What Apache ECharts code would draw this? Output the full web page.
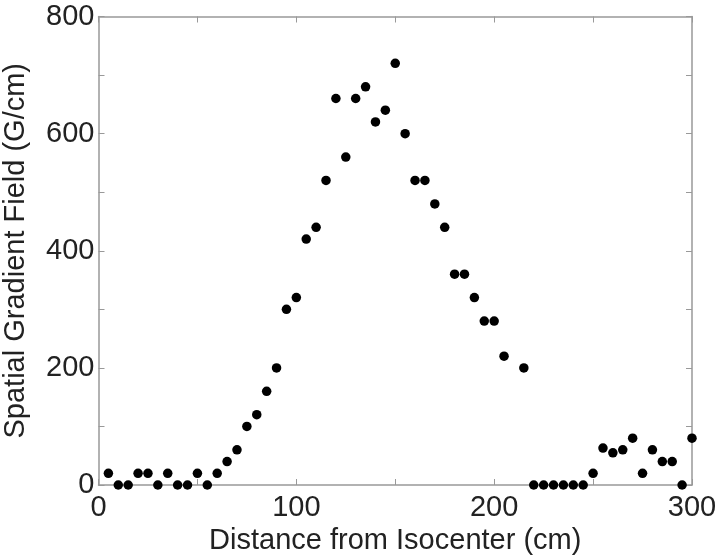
<!DOCTYPE html>
<html>
<head>
<meta charset="utf-8">
<script src="https://cdn.jsdelivr.net/npm/echarts@6/dist/echarts.min.js"></script>
<style>html,body{margin:0;padding:0;background:#fff}#c{width:717px;height:557px}</style>
</head>
<body>
<div id="c"></div>
<script>
const distance = [5,10,15,20,25,30,35,40,45,50,55,60,65,70,75,80,85,90,95,100,
  105,110,115,120,125,130,135,140,145,150,155,160,165,170,175,180,185,190,195,200,205,
  215,220,225,230,235,240,245,250,255,260,265,270,275,280,285,290,295,300];
const gradient = [20,0,0,20,20,0,20,0,0,20,0,20,40,60,100,120,160,200,300,320,
  420,440,520,660,560,660,680,620,640,720,600,520,520,480,440,360,360,320,280,280,220,
  200,0,0,0,0,0,0,20,63,55,60,80,20,60,40,40,0,80];
const xTicks = [0,100,200,300];
const yTicks = [0,200,400,600,800];

const font = '"Liberation Sans", Arial, sans-serif';
const axisColor = '#999';
const textColor = '#222';
const data = distance.map((d,i)=>[d, gradient[i]]);

const chart = echarts.init(document.getElementById('c'));
function axis(extra){
  return Object.assign({
    axisLine:{show:true, onZero:false, lineStyle:{color:axisColor, width:1.5}},
    axisTick:{show:true, inside:true, length:6, lineStyle:{color:axisColor, width:1}},
    splitLine:{show:false}
  }, extra);
}
chart.setOption({
  animation:false,
  grid:{left:98.5, right:25, top:16.5, bottom:72, containLabel:false, outerBoundsMode:'none'},
  xAxis:[
    axis({type:'value', min:0, max:300, interval:50, position:'bottom',
      name:'Distance from Isocenter (cm)', nameLocation:'middle', nameGap:39.5,
      nameTextStyle:{fontFamily:font, fontSize:29, color:textColor},
      axisLabel:{fontFamily:font, fontSize:29, color:textColor, margin:8,
        formatter:v=>xTicks.includes(v)?String(v):''}}),
    axis({type:'value', min:0, max:300, interval:50, position:'top',
      axisLabel:{show:false}})
  ],
  yAxis:[
    axis({type:'value', min:0, max:800, interval:100, position:'left',
      name:'Spatial Gradient Field (G/cm)', nameLocation:'middle', nameGap:68,
      nameTextStyle:{fontFamily:font, fontSize:29, color:textColor},
      axisLabel:{fontFamily:font, fontSize:29, color:textColor, margin:4,
        formatter:v=>yTicks.includes(v)?String(v):''}}),
    axis({type:'value', min:0, max:800, interval:100, position:'right',
      axisLabel:{show:false}})
  ],
  series:[{
    type:'scatter', data:data, symbol:'circle', symbolSize:9.5,
    itemStyle:{color:'#000', opacity:1}, clip:false
  }]
});
</script>
</body>
</html>
